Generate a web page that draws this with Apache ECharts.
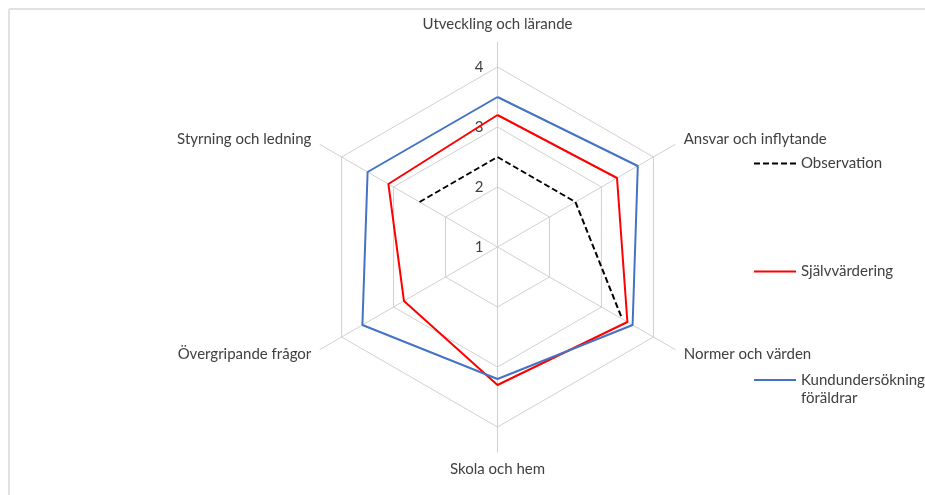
<!DOCTYPE html>
<html>
<head>
<meta charset="utf-8">
<script src="https://cdn.jsdelivr.net/npm/echarts@6/dist/echarts.min.js"></script>
<style>
  html, body { margin: 0; padding: 0; background: #fff; }
  #chart { width: 925px; height: 495px; }
</style>
</head>
<body>
<div id="chart"></div>
<script>
// kategorier, medurs från toppen
const categories = [
  'Utveckling och lärande',
  'Ansvar och inflytande',
  'Normer och värden',
  'Skola och hem',
  'Övergripande frågor',
  'Styrning och ledning'
]
const radiusTicks = [1, 2, 3, 4]

// värden (null = saknas)
const observation = [2.5, 2.5, 3.4, null, null, 2.5]
const selfEval = [3.2, 3.3, 3.5, 3.3, 2.8, 3.1]
const parents = [3.5, 3.7, 3.6, 3.2, 3.6, 3.5]

const seriesNames = ['Observation', 'Självvärdering', 'Kundundersökning föräldrar']

const center = [497.5, 247]
const textColor = '#404040'
const gridColor = '#d0d0d0'
const font = 'Lato'
const fontSize = 15

// radar lägger indikatorerna moturs, så vänd ordningen för att få medurs
const radarOrder = [categories[0]].concat(categories.slice(1).reverse())

// sluten ring: [värde, kategoriindex], första punkten upprepas sist (index n = ett varv)
const ring = (values) => {
  const pts = values.map((v, i) => [v == null ? '-' : v, i])
  pts.push([values[0] == null ? '-' : values[0], values.length])
  return pts
}

const chart = echarts.init(document.getElementById('chart'))

const lineSeries = (name, values, color, type) => ({
  type: 'line',
  name: name,
  coordinateSystem: 'polar',
  data: ring(values),
  symbol: 'none',
  clip: false,
  connectNulls: false,
  lineStyle: { color: color, width: 2, type: type },
  itemStyle: { color: color },
  z: 5
})

const legendBase = {
  orient: 'vertical',
  left: 748,
  itemWidth: 42,
  itemHeight: 14,
  selectedMode: false,
  itemStyle: { opacity: 0 },
  textStyle: { color: textColor, fontSize: fontSize, fontFamily: font }
}

chart.setOption({
  animation: false,
  textStyle: { fontFamily: font },
  graphic: [
    { type: 'line', shape: { x1: 9, y1: 9, x2: 925, y2: 9 }, style: { stroke: '#e2e2e2', lineWidth: 2 } },
    { type: 'line', shape: { x1: 9, y1: 9, x2: 9, y2: 495 }, style: { stroke: '#e2e2e2', lineWidth: 2 } }
  ],
  radar: [
    {
      // ekrar + namn
      center: center,
      radius: 205,
      shape: 'polygon',
      nameGap: 10,
      indicator: radarOrder.map((c) => ({ name: c, min: 0, max: 1 })),
      axisName: { color: textColor, fontSize: fontSize, fontFamily: font },
      axisLine: { show: true, lineStyle: { color: gridColor, width: 1 } },
      splitLine: { show: false },
      splitArea: { show: false },
      axisLabel: { show: false },
      axisTick: { show: false }
    },
    {
      // rutnät
      center: center,
      radius: 180,
      shape: 'polygon',
      splitNumber: radiusTicks.length - 1,
      indicator: radarOrder.map((c) => ({ name: c, min: radiusTicks[0], max: radiusTicks[radiusTicks.length - 1] })),
      axisName: { show: false },
      axisLine: { show: false },
      splitLine: { show: true, lineStyle: { color: gridColor, width: 1 } },
      splitArea: { show: false },
      axisLabel: { show: false },
      axisTick: { show: false }
    }
  ],
  polar: { center: center, radius: 180 },
  angleAxis: {
    type: 'value',
    min: 0,
    max: categories.length,
    interval: 1,
    startAngle: 90,
    clockwise: true,
    axisLine: { show: false },
    axisTick: { show: false },
    axisLabel: { show: false },
    splitLine: { show: false }
  },
  radiusAxis: {
    min: radiusTicks[0],
    max: radiusTicks[radiusTicks.length - 1],
    interval: 1,
    axisLine: { show: false },
    axisTick: { show: false },
    splitLine: { show: false },
    axisLabel: { show: true, margin: 14, color: textColor, fontSize: fontSize, fontFamily: font }
  },
  legend: [
    Object.assign({}, legendBase, { top: 151, data: [seriesNames[0]] }),
    Object.assign({}, legendBase, { top: 259, data: [seriesNames[1]] }),
    Object.assign({}, legendBase, {
      top: 348,
      data: [seriesNames[2]],
      // tom första rad så att ikonen hamnar i höjd med första textraden
      formatter: (name) => ' \n' + name.replace(' ', '\n'),
      textStyle: { color: textColor, fontSize: fontSize, fontFamily: font, lineHeight: 18 }
    })
  ],
  series: [
    lineSeries(seriesNames[0], observation, '#000000', [6, 3]),
    lineSeries(seriesNames[1], selfEval, '#ff0000', 'solid'),
    lineSeries(seriesNames[2], parents, '#4472c4', 'solid')
  ]
})
</script>
</body>
</html>
